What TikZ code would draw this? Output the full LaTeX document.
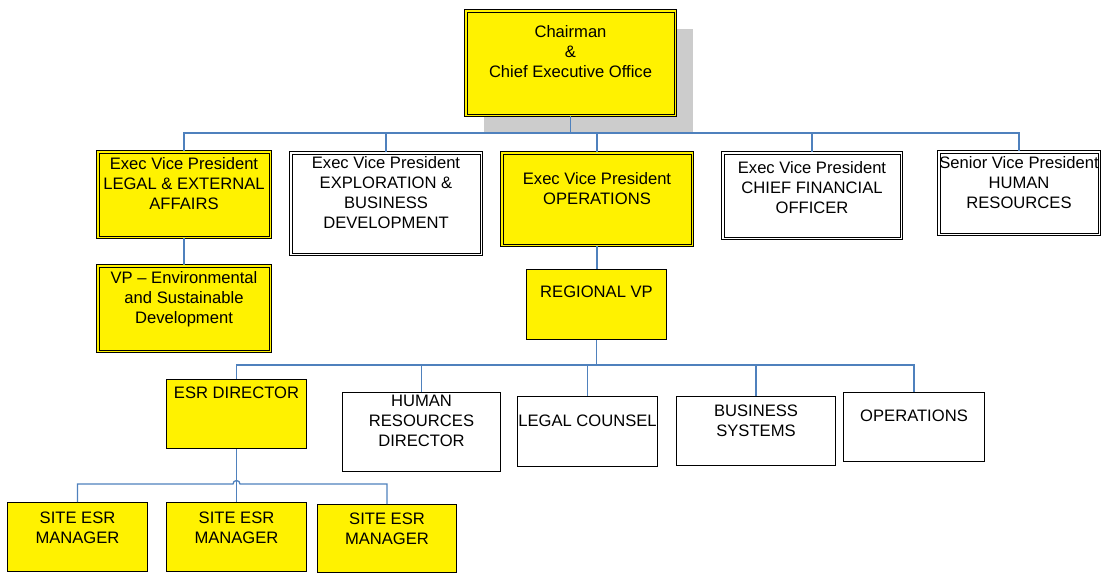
\documentclass[tikz,border=0pt]{standalone}
\usepackage{fontspec}
\setmainfont{Liberation Sans}
\usepackage{tikz}
\usetikzlibrary{shadows}
\definecolor{linkblue}{HTML}{4F81BD}
\definecolor{shadowgray}{HTML}{CCCCCC}
\tikzset{every node/.append style={font=\fontsize{16.6}{20}\selectfont}}

\begin{document}
\begin{tikzpicture}[x=1pt, y=-1pt,
    unit/.style={rectangle, draw=black, line width=1pt, inner sep=0pt},
    headbox/.style={unit, fill=#1, double=#1, double distance=1.5pt},
    unitbox/.style={unit, fill=#1},
    boxsize/.style 2 args={minimum width=#1, minimum height=#2},
    toptext/.style={anchor=north, align=center, inner sep=0pt},
    link/.style={draw=linkblue, line width=1.3pt}]
    \useasboundingbox (0,0) rectangle (1110,576);

    % top of the chart
    \node[headbox=yellow, boxsize={209.5}{104.5},
          drop shadow={opacity=1, fill=shadowgray, shadow xshift=18pt, shadow yshift=-18pt},
          label={[toptext, yshift=-15pt]north:{Chairman\\\&\\Chief Executive Office}}] (ceo) at (570.5,63) {};

    % executive level
    \node[headbox=yellow, boxsize={172.5}{85.5},
          label={[toptext, yshift=-6pt]north:{Exec Vice President\\LEGAL \& EXTERNAL\\AFFAIRS}}] (legal) at (184,194.5) {};
    \node[headbox=white, boxsize={190.5}{101.5},
          label={[toptext, yshift=-4pt]north:{Exec Vice President\\EXPLORATION \&\\BUSINESS\\DEVELOPMENT}}] (explo) at (386,203.5) {};
    \node[headbox=yellow, boxsize={190.5}{92.5},
          label={[toptext, yshift=-20pt]north:{Exec Vice President\\OPERATIONS}}] (ops) at (597,199) {};
    \node[headbox=white, boxsize={178.5}{85.5},
          label={[toptext, yshift=-9pt]north:{Exec Vice President\\CHIEF FINANCIAL\\OFFICER}}] (cfo) at (812,195.5) {};
    \node[headbox=white, boxsize={160.5}{82.5},
          label={[toptext, yshift=-5pt]north:{Senior Vice President\\HUMAN\\RESOURCES}}] (hrsvp) at (1019,193) {};

    \node[headbox=yellow, boxsize={172.5}{85.5},
          label={[toptext, yshift=-6pt]north:{VP – Environmental\\and Sustainable\\Development}}] (vpenv) at (184,308.5) {};
    \node[unitbox=yellow, boxsize={140}{70},
          label={[toptext, yshift=-17pt]north:{REGIONAL VP}}] (regvp) at (596.5,304.5) {};

    % regional level
    \node[unitbox=yellow, boxsize={140}{69},
          label={[toptext, yshift=-8pt]north:{ESR DIRECTOR}}] (esrdir) at (236.5,414) {};
    \node[unitbox=white, boxsize={158}{79},
          label={[toptext, yshift=-2.5pt]north:{HUMAN\\RESOURCES\\DIRECTOR}}] (hrdir) at (421.5,432) {};
    \node[unitbox=white, boxsize={140}{70},
          label={[toptext, yshift=-19pt]north:{LEGAL COUNSEL}}] (counsel) at (587.5,431.5) {};
    \node[unitbox=white, boxsize={159}{69},
          label={[toptext, yshift=-9pt]north:{BUSINESS\\SYSTEMS}}] (bizsys) at (756,431) {};
    \node[unitbox=white, boxsize={141}{69},
          label={[toptext, yshift=-17.5pt]north:{OPERATIONS}}] (opslow) at (914,427) {};

    % site managers
    \node[unitbox=yellow, boxsize={140}{69},
          label={[toptext, yshift=-9.5pt]north:{SITE ESR\\MANAGER}}] (site1) at (77.5,537) {};
    \node[unitbox=yellow, boxsize={140}{69},
          label={[toptext, yshift=-9.5pt]north:{SITE ESR\\MANAGER}}] (site2) at (236.5,537) {};
    \node[unitbox=yellow, boxsize={139}{68},
          label={[toptext, yshift=-8.5pt]north:{SITE ESR\\MANAGER}}] (site3) at (387,538.5) {};

    % connectors
    \coordinate (bus1) at (571,133);
    \coordinate (bus2) at (597,365);
    \coordinate (bus3) at (236.5,484);

    \draw[link] (ceo.south) -- (ceo.south |- bus1);
    \draw[link] (legal.north) |- (bus1) -| (hrsvp.north);
    \foreach \n in {explo,ops,cfo}
        \draw[link] (\n.north) -- (\n.north |- bus1);
    \draw[link] (legal.south) -- (vpenv.north);
    \draw[link] (ops.south) -- (ops.south |- regvp.north);

    \draw[link] (regvp.south) -- (regvp.south |- bus2);
    \draw[link] (esrdir.north) |- (bus2) -| (opslow.north);
    \foreach \n in {hrdir,counsel,bizsys}
        \draw[link] (\n.north) -- (\n.north |- bus2);

    \draw[link] (esrdir.south) -- (site2.north);
    \draw[link] (site1.north) |- ([xshift=-3.5pt]bus3)
        arc[start angle=180, end angle=0, radius=3.5pt] -| (site3.north);
\end{tikzpicture}
\end{document}
